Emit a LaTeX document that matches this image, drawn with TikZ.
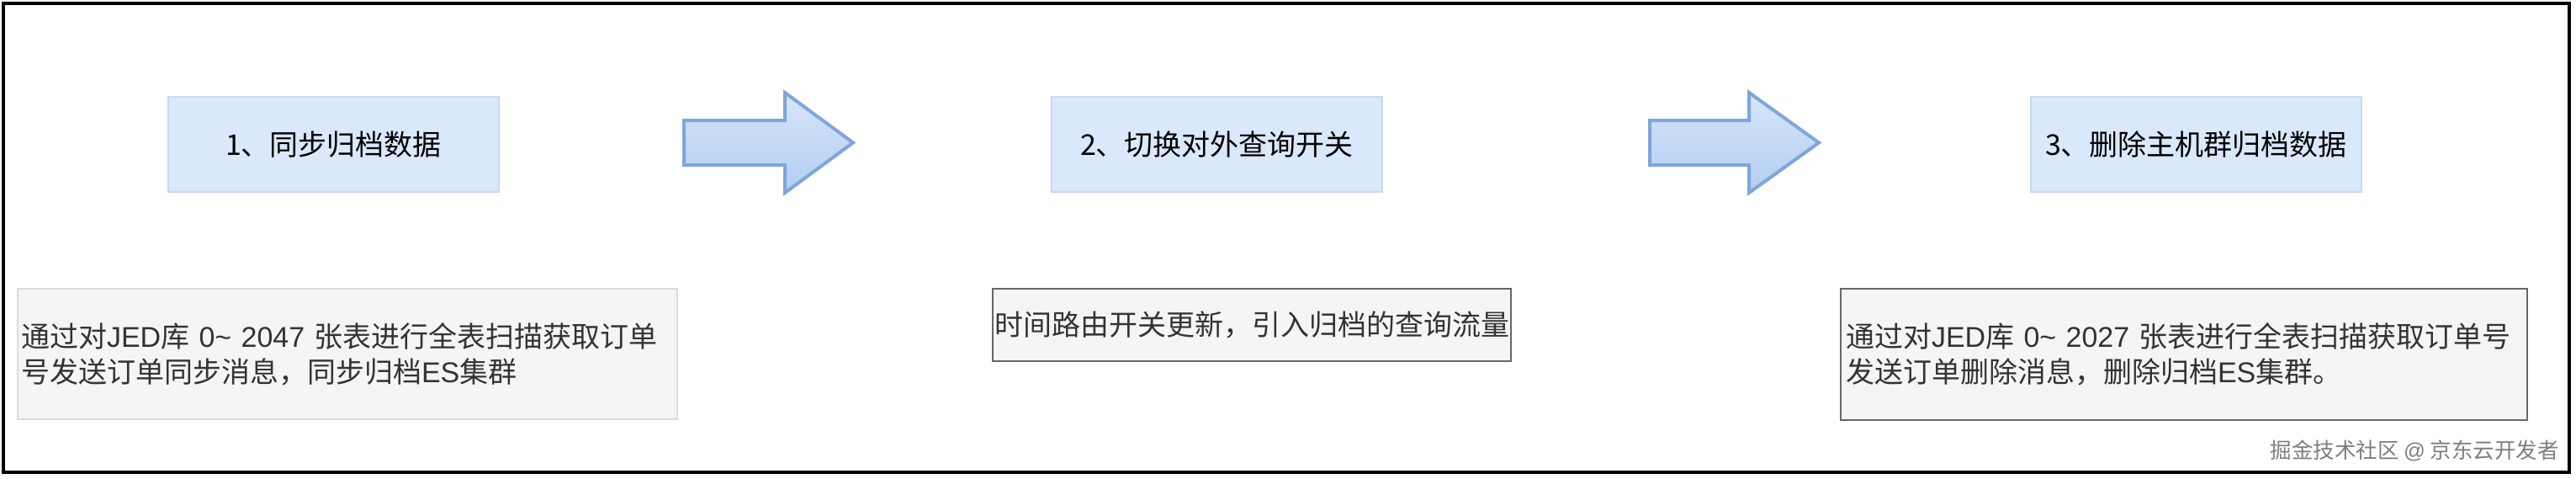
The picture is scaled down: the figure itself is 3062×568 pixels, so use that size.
\documentclass[tikz,border=0pt]{standalone}
\usepackage{fontspec}
\setmainfont{Noto Sans CJK SC}
\newfontfamily\lat{Liberation Sans}
\definecolor{boxfill}{HTML}{DAE8FC}
\definecolor{boxborder}{HTML}{C8D9F0}
\definecolor{notefill}{HTML}{F5F5F5}
\definecolor{lightborder}{HTML}{DCDCDC}
\definecolor{darkborder}{HTML}{666666}
\definecolor{notetext}{HTML}{333333}
\definecolor{arrowborder}{HTML}{7FA6DB}
\definecolor{arrowtop}{HTML}{D6E6FA}
\definecolor{arrowbot}{HTML}{B3CDF0}
\definecolor{markgray}{HTML}{7E7E7E}
\begin{document}
\begin{tikzpicture}[x=1pt,y=-1pt,
  stepbox/.style={draw=boxborder, fill=boxfill, line width=1.5pt,
    minimum width=393pt, minimum height=113pt, inner sep=0pt,
    font=\fontsize{34}{40}\selectfont, text=black},
  notebox/.style={fill=notefill, line width=2.5pt, inner ysep=0pt,
    font=\fontsize{34}{42}\selectfont, text=notetext, align=left},
  bigarrow/.style={draw=arrowborder, line width=4pt, line join=miter,
    top color=arrowtop, bottom color=arrowbot}
]
\useasboundingbox (0,0) rectangle (3062,568);
\fill[white] (0,0) rectangle (3062,568);
\draw[line width=3.5pt, black] (4,4) rectangle (3054,561);

% step boxes
\node[stepbox] (s1) at (396.5,171.5) {1、同步归档数据};
\node[stepbox] (s2) at (1446.5,171.5) {2、切换对外查询开关};
\node[stepbox] (s3) at (2610.5,171.5) {3、删除主机群归档数据};

% block arrows
\draw[bigarrow] (813,143) -- (933,143) -- (933,110) -- (1014,169.5)
  -- (933,229) -- (933,196) -- (813,196) -- cycle;
\draw[bigarrow] (1961,143) -- (2079,143) -- (2079,110) -- (2162,169.5)
  -- (2079,229) -- (2079,196) -- (1961,196) -- cycle;

% note boxes
\node[notebox, draw=lightborder, line width=1.5pt, inner xsep=4pt,
  text width=776pt, minimum width=784pt, minimum height=155pt]
  (n1) at (413,420.5)
  {通过对{\lat JED}库 {\lat 0\textasciitilde{} 2047} 张表进行全表扫描获取订单\\号发送订单同步消息，同步归档{\lat ES}集群};
\node[notebox, draw=darkborder, inner xsep=2pt,
  minimum width=616pt, minimum height=86pt]
  (n2) at (1488,386)
  {时间路由开关更新，引入归档的查询流量};
\node[notebox, draw=darkborder, inner xsep=6pt,
  text width=804pt, minimum width=816pt, minimum height=156pt]
  (n3) at (2596,421)
  {通过对{\lat JED}库 {\lat 0\textasciitilde{} 2027} 张表进行全表扫描获取订单号\\发送订单删除消息，删除归档{\lat ES}集群。};

% watermark
\node[anchor=east, inner sep=0pt, text=markgray,
  font=\fontsize{25.5}{30}\selectfont] (wm) at (3042,535)
  {掘金技术社区 {\lat @} 京东云开发者};
\end{tikzpicture}
\end{document}
